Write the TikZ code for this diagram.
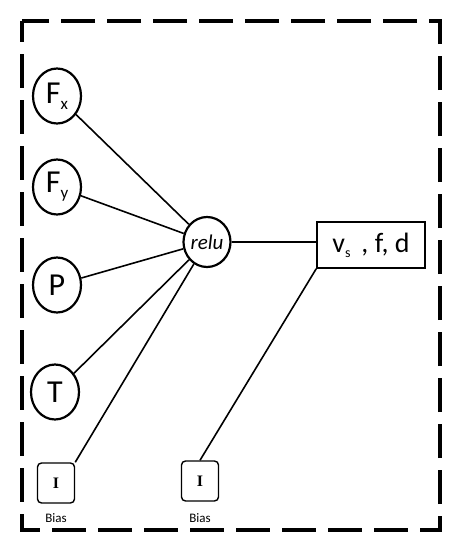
\documentclass[tikz,border=0pt]{standalone}
\usepackage{fontspec}
\setmainfont{Carlito}
\newfontfamily\serifI{Liberation Serif}
\usetikzlibrary{shapes.geometric}
\begin{document}
\begin{tikzpicture}[x=1pt,y=-1pt,
  inp/.style={draw,line width=2.2pt,ellipse,minimum width=48pt,minimum height=55pt,inner sep=0pt,font=\fontsize{32}{32}\selectfont},
  biasbox/.style={draw,line width=1.4pt,rounded corners=4pt,minimum width=37pt,minimum height=40pt,inner sep=0pt,font=\serifI\bfseries\fontsize{16}{16}\selectfont},
  lbl/.style={font=\fontsize{13}{13}\selectfont},
  conn/.style={line width=1.6pt}]
\useasboundingbox (0,0) rectangle (457,550);
\draw[line width=4pt,dash pattern=on 34pt off 12pt,dash phase=13pt] (22,21) rectangle (440,530);
\node[inp] (fx) at (57,96) {F\raisebox{-6pt}{\fontsize{17}{17}\selectfont x}};
\node[inp] (fy) at (57,187) {F\raisebox{-6pt}{\fontsize{17}{17}\selectfont y}};
\node[inp] (p) at (57,285) {P};
\node[inp] (t) at (55,392) {T};
\node[biasbox] (b1) at (56,483) {I};
\node[lbl] (b1l) at (56,518) {Bias};
\node[biasbox] (b2) at (200,481) {I};
\node[lbl] (b2l) at (200,518) {Bias};
\node[draw,line width=2.2pt,ellipse,minimum width=47pt,minimum height=50pt,inner sep=0pt,font=\itshape\fontsize{21}{21}\selectfont] (relu) at (207,242) {relu};
\node[draw,line width=1.6pt,minimum width=108pt,minimum height=46pt,inner sep=0pt,font=\fontsize{28}{28}\selectfont] (out) at (371,245) {v\raisebox{-5pt}{\fontsize{14}{14}\selectfont s}\, , f, d};
\draw[conn] (fx) -- (relu);
\draw[conn] (fy) -- (relu);
\draw[conn] (p) -- (relu);
\draw[conn] (t) -- (relu);
\draw[conn] (b1.north east) -- (relu);
\draw[conn] (relu) -- (relu -| out.west);
\draw[conn] (b2.north) -- (out.south west);
\end{tikzpicture}
\end{document}
